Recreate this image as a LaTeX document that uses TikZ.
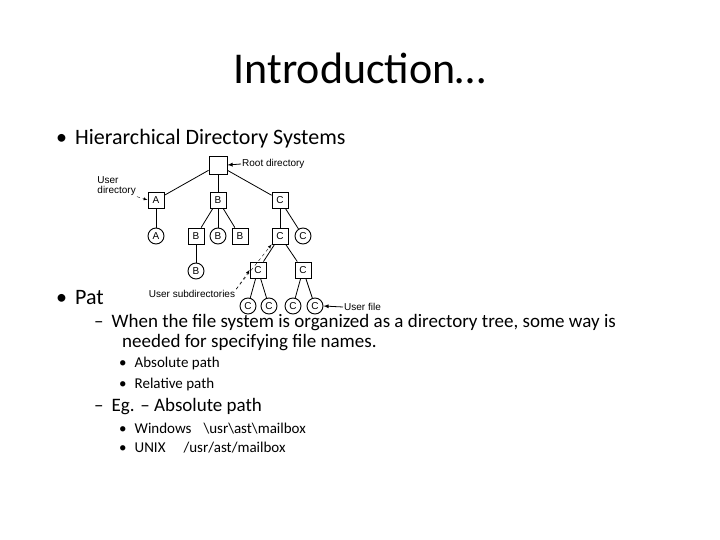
\documentclass[tikz,border=0pt]{standalone}
\usepackage{fontspec}
\setmainfont{Carlito}
\newfontfamily\tf{Liberation Sans}
\begin{document}
\begin{tikzpicture}[x=1pt,y=-1pt,
 bx/.style={draw,line width=0.9pt,minimum size=16pt,inner sep=0pt,font=\tf\fontsize{10}{10}\selectfont},
 ci/.style={draw,circle,line width=0.9pt,minimum size=16pt,inner sep=0pt,font=\tf\fontsize{10}{10}\selectfont},
 lb/.style={font=\tf\fontsize{10}{10}\selectfont,inner sep=1pt},
 tx/.style={anchor=west,inner sep=0pt,font=\fontsize{22}{24}\selectfont},
 mx/.style={anchor=west,inner sep=0pt,font=\fontsize{19}{21}\selectfont},
 sx/.style={anchor=west,inner sep=0pt,font=\fontsize{15}{17}\selectfont},
 ln/.style={line width=0.8pt}]
\useasboundingbox (0,0) rectangle (720,540);
\node[font=\fontsize{44}{48}\selectfont] (title) at (360,68) {Introduction…};
\node[tx] (t1) at (56,139) {•\hspace{8pt}Hierarchical Directory Systems};
\node[tx] (t2) at (56,297) {•\hspace{8pt}Path names};
\fill[white] (104,150) rectangle (370,311);
\node[mx] (t3) at (94,323) {–\hspace{8pt}When the file system is organized as a directory tree, some way is};
\node[mx] (t3b) at (122,343) {needed for specifying file names.};
\node[sx] (t4) at (119,363) {•\hspace{8pt}Absolute path};
\node[sx] (t5) at (119,384) {•\hspace{8pt}Relative path};
\node[mx] (t6) at (94,407) {–\hspace{8pt}Eg. – Absolute path};
\node[sx] (t7) at (119,429) {•\hspace{8pt}Windows\hspace{12pt}\textbackslash usr\textbackslash ast\textbackslash mailbox};
\node[sx] (t8) at (119,448) {•\hspace{8pt}UNIX\hspace{18pt}/usr/ast/mailbox};
% tree
\node[bx,minimum size=18pt] (r) at (218,165) {};
\node[bx] (A) at (156,200) {A};
\node[bx] (B) at (218,200) {B};
\node[bx] (C) at (280,200) {C};
\node[ci] (a1) at (156,236) {A};
\node[bx] (b1) at (196,236) {B};
\node[ci] (b2) at (218,236) {B};
\node[bx] (b3) at (240,236) {B};
\node[bx] (c1) at (280,236) {C};
\node[ci] (c2) at (303,236) {C};
\node[ci] (b4) at (196,271) {B};
\node[bx] (c3) at (258,270) {C};
\node[bx] (c4) at (303,270) {C};
\node[ci] (f1) at (248,306) {C};
\node[ci] (f2) at (269,306) {C};
\node[ci] (f3) at (293,306) {C};
\node[ci] (f4) at (315,306) {C};
\foreach \p/\c in {r/A,r/B,r/C,A/a1,B/b1,B/b2,B/b3,C/c1,C/c2,b1/b4,c1/c3,c1/c4,c3/f1,c3/f2,c4/f3,c4/f4}
  \draw[ln] (\p) -- (\c);
\node[lb,anchor=west] (rl) at (241,164) {Root directory};
\draw[ln,->,>=latex] (rl.west) -- (r.east);
\node[lb,align=left,anchor=east] (ul) at (137,186) {User\\directory};
\draw[dashed,->,>=latex] (ul.south east) -- (A.west);
\node[lb,anchor=center] (sl) at (192,294) {User subdirectories};
\draw[dashed,->,>=latex] (sl.north east) -- (c1.south west);
\draw[dashed,->,>=latex] (sl.north east) -- (c3.west);
\node[lb,anchor=west] (fl) at (343,307) {User file};
\draw[ln,->,>=latex] (fl.west) -- (f4.east);
\end{tikzpicture}
\end{document}
